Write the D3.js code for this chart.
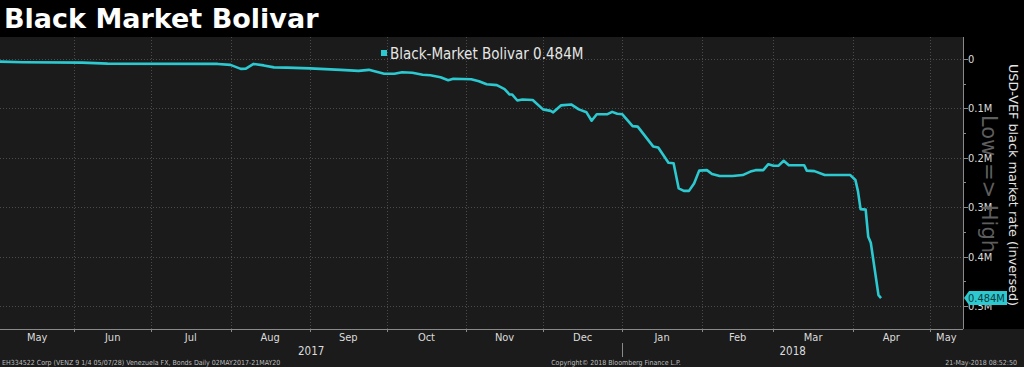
<!doctype html>
<html lang="en">
<head>
  <meta charset="utf-8">
  <title>Black Market Bolivar</title>
  <script src="https://d3js.org/d3.v7.min.js"></script>
  <style>
    body { margin: 0; background: #1b1b1b; }
    svg { display: block; }
    .cond { font-family: 'DejaVu Sans Condensed', 'DejaVu Sans', sans-serif; font-stretch: condensed; }
  </style>
</head>

<body>
  <div id="chart"></div>
  <script type="text/javascript">
	// USD-VEF black market rate
	var dates = ["2017-05-03","2017-05-12","2017-06-04","2017-06-14","2017-07-27","2017-08-01","2017-08-05","2017-08-07",
		"2017-08-10","2017-08-14","2017-08-18","2017-08-23","2017-09-01","2017-09-13","2017-09-20","2017-09-24",
		"2017-09-30","2017-10-04","2017-10-07","2017-10-11","2017-10-15","2017-10-18","2017-10-22","2017-10-25",
		"2017-10-27","2017-11-03","2017-11-06","2017-11-09","2017-11-13","2017-11-16","2017-11-18","2017-11-19",
		"2017-11-21","2017-11-23","2017-11-27","2017-12-01","2017-12-04","2017-12-05","2017-12-08","2017-12-12",
		"2017-12-15","2017-12-18","2017-12-20","2017-12-22","2017-12-26","2017-12-28","2017-12-30","2018-01-01",
		"2018-01-05","2018-01-07","2018-01-13","2018-01-15","2018-01-19","2018-01-21","2018-01-23","2018-01-25",
		"2018-01-27","2018-01-29","2018-01-31","2018-02-03","2018-02-05","2018-02-08","2018-02-13","2018-02-17",
		"2018-02-20","2018-02-22","2018-02-25","2018-02-27","2018-03-01","2018-03-03","2018-03-05","2018-03-07",
		"2018-03-13","2018-03-14","2018-03-17","2018-03-21","2018-03-27","2018-03-31","2018-04-02","2018-04-03",
		"2018-04-04","2018-04-06","2018-04-07","2018-04-08","2018-04-11","2018-04-12"];
	var rates = [5400,6700,7400,9400,10000,12000,20000,19500,
		10000,13000,17000,17500,19000,22000,24000,22000,
		30000,30000,27000,28000,32000,33000,37000,43000,
		40000,41000,45000,51000,53000,61000,72000,72000,
		84000,82000,83000,102000,105000,108000,94000,92000,
		102000,108000,125000,112000,112000,107000,111000,112000,
		136000,137000,177000,179000,210000,211000,262000,267000,
		267000,252000,226000,225000,233000,237000,237000,235000,
		228000,225000,225000,213000,216000,216000,206000,215000,
		215000,226000,227000,235000,235000,235000,245000,268000,
		304000,305000,360000,372000,478000,484000];

	var yTicks = [0, 100000, 200000, 300000, 400000, 500000];
	var yMinor = [50000, 150000, 250000, 350000, 450000];
	var seriesName = "Black-Market Bolivar";
	var lastLabel = "0.484M";

	var width = 1024, height = 367;
	var plotLeft = 0, plotRight = 963, plotTop = 37, plotBottom = 329;
	var lineColor = "#2cc9d0";

	var parse = d3.timeParse("%Y-%m-%d");
	var data = dates.map(function(d, i) { return {date: parse(d), value: rates[i]}; });

	var d0 = parse("2017-05-03"), d1 = parse("2018-05-14");
	var x = d3.scaleTime().domain([d0, d1]).range([plotLeft, plotRight]);
	// inversed axis: low values at the top
	var y = d3.scaleLinear().domain([-44500, 546600]).range([plotTop, plotBottom]);

	var svg = d3.select('#chart')
				.append('svg')
				.attr('width', width)
				.attr('height', height);

	svg.append('rect').attr('width', width).attr('height', height).attr('fill', '#1b1b1b');
	svg.append('rect').attr('width', width).attr('height', plotTop).attr('fill', '#000');
	svg.append('rect').attr('x', plotRight).attr('y', plotTop)
		.attr('width', width - plotRight).attr('height', plotBottom - plotTop).attr('fill', '#000');

	// title
	svg.append('text')
		.attr('x', 4).attr('y', 28)
		.style('font-family', 'DejaVu Sans')
		.style('font-weight', 'bold')
		.style('font-size', '27px')
		.style('fill', '#fff')
		.text('Black Market Bolivar');

	var months = d3.timeMonth.range(d3.timeMonth.ceil(d0), d1);

	// dotted grid
	svg.append('g').selectAll('line')
		.data(months)
		.enter().append('line')
		.attr('x1', function(d) { return Math.round(x(d)) + 0.5; })
		.attr('x2', function(d) { return Math.round(x(d)) + 0.5; })
		.attr('y1', plotTop).attr('y2', plotBottom)
		.attr('stroke', '#4a4a4a').attr('stroke-dasharray', '1,2');

	svg.append('g').selectAll('line')
		.data(yTicks)
		.enter().append('line')
		.attr('x1', plotLeft).attr('x2', plotRight)
		.attr('y1', function(d) { return Math.round(y(d)) + 0.5; })
		.attr('y2', function(d) { return Math.round(y(d)) + 0.5; })
		.attr('stroke', '#4a4a4a').attr('stroke-dasharray', '1,2');

	// legend
	svg.append('rect').attr('x', 381).attr('y', 50).attr('width', 6).attr('height', 6).attr('fill', lineColor);
	svg.append('text')
		.attr('class', 'cond')
		.attr('x', 390).attr('y', 59)
		.style('font-size', '15px')
		.style('fill', '#e6e6e6')
		.text(seriesName + ' ' + lastLabel);

	// the series
	var line = d3.line()
		.x(function(d) { return x(d.date); })
		.y(function(d) { return y(d.value); });

	svg.append('path')
		.datum(data)
		.attr('d', line)
		.attr('fill', 'none')
		.attr('stroke', lineColor)
		.attr('stroke-width', 2.6)
		.attr('stroke-linejoin', 'round');

	// bottom axis
	svg.append('line')
		.attr('x1', plotLeft).attr('x2', plotRight)
		.attr('y1', plotBottom + 0.5).attr('y2', plotBottom + 0.5)
		.attr('stroke', '#8a8a8a');

	svg.append('g').selectAll('line')
		.data(months)
		.enter().append('line')
		.attr('x1', function(d) { return Math.round(x(d)) + 0.5; })
		.attr('x2', function(d) { return Math.round(x(d)) + 0.5; })
		.attr('y1', plotBottom).attr('y2', plotBottom + 3)
		.attr('stroke', '#8a8a8a');

	var monthLabels = d3.timeMonth.range(d3.timeMonth.floor(d0), d1);
	svg.append('g').selectAll('text')
		.data(monthLabels)
		.enter().append('text')
		.attr('class', 'cond')
		.attr('x', function(d) {
			var a = d < d0 ? d0 : d;
			var b = d3.timeMonth.offset(d, 1);
			if (b > d1) b = d1;
			return (x(a) + x(b)) / 2;
		})
		.attr('y', 341)
		.attr('text-anchor', 'middle')
		.style('font-size', '11px')
		.style('fill', '#dcdcdc')
		.text(d3.timeFormat('%b'));

	var years = [parse("2017-01-01"), parse("2018-01-01")];
	svg.append('g').selectAll('text')
		.data(years)
		.enter().append('text')
		.attr('class', 'cond')
		.attr('x', function(d) {
			var a = d < d0 ? d0 : d;
			var b = d3.timeYear.offset(d, 1);
			if (b > d1) b = d1;
			return (x(a) + x(b)) / 2;
		})
		.attr('y', 355)
		.attr('text-anchor', 'middle')
		.style('font-size', '11.5px')
		.style('fill', '#dcdcdc')
		.text(d3.timeFormat('%Y'));

	svg.append('line')
		.attr('x1', Math.round(x(years[1])) + 0.5).attr('x2', Math.round(x(years[1])) + 0.5)
		.attr('y1', 343).attr('y2', 357)
		.attr('stroke', '#8a8a8a');

	// right axis
	svg.append('line')
		.attr('x1', plotRight + 0.5).attr('x2', plotRight + 0.5)
		.attr('y1', plotTop).attr('y2', plotBottom)
		.attr('stroke', '#8a8a8a');

	svg.append('g').selectAll('line')
		.data(yMinor)
		.enter().append('line')
		.attr('x1', plotRight).attr('x2', plotRight + 3)
		.attr('y1', function(d) { return Math.round(y(d)) + 0.5; })
		.attr('y2', function(d) { return Math.round(y(d)) + 0.5; })
		.attr('stroke', '#8a8a8a');

	var fmtM = function(d) { return d === 0 ? '0' : d3.format('.1f')(d / 1e6) + 'M'; };

	var yAxis = svg.append('g').selectAll('g')
		.data(yTicks)
		.enter().append('g')
		.attr('transform', function(d) { return 'translate(' + plotRight + ',' + (Math.round(y(d)) + 0.5) + ')'; });
	yAxis.append('line').attr('x1', 0).attr('x2', 5).attr('stroke', '#8a8a8a');
	yAxis.append('text')
		.attr('class', 'cond')
		.attr('x', 5).attr('dy', '0.36em')
		.style('font-size', '11px')
		.style('fill', '#dcdcdc')
		.text(fmtM);

	// "Low => High" watermark
	svg.append('text')
		.attr('transform', 'translate(982,184) rotate(90)')
		.attr('text-anchor', 'middle')
		.style('font-family', 'DejaVu Sans')
		.style('font-size', '21px')
		.style('fill', '#5e5e5e')
		.text('Low => High');

	// axis title
	svg.append('text')
		.attr('transform', 'translate(1009,185) rotate(90)')
		.attr('text-anchor', 'middle')
		.style('font-family', 'DejaVu Sans')
		.style('font-size', '12.8px')
		.style('fill', '#e6e6e6')
		.text('USD-VEF black market rate (inversed)');

	// last value tag
	var last = data[data.length - 1];
	var ty = y(last.value);
	svg.append('path')
		.attr('d', 'M' + (plotRight + 1) + ',' + ty + 'L' + (plotRight + 6) + ',' + (ty - 7) + 'H1007V' + (ty + 7) + 'H' + (plotRight + 6) + 'Z')
		.attr('fill', lineColor);
	svg.append('text')
		.attr('class', 'cond')
		.attr('x', 968).attr('y', ty).attr('dy', '0.36em')
		.style('font-size', '11px')
		.style('fill', '#0e3b3e')
		.text(lastLabel);

	// footer
	var foot = svg.append('g').attr('class', 'cond').style('font-size', '7px').style('fill', '#bdbdbd');
	foot.append('text').attr('x', 2).attr('y', 365)
		.text('EH334522 Corp (VENZ 9 1/4 05/07/28) Venezuela FX, Bonds  Daily 02MAY2017-21MAY20');
	foot.append('text').attr('x', 616).attr('y', 365).attr('text-anchor', 'middle')
		.text('Copyright\u00a9 2018 Bloomberg Finance L.P.');
	foot.append('text').attr('x', 1017).attr('y', 365).attr('text-anchor', 'end')
		.text('21-May-2018 08:52:50');
  </script>
</body>
</html>
